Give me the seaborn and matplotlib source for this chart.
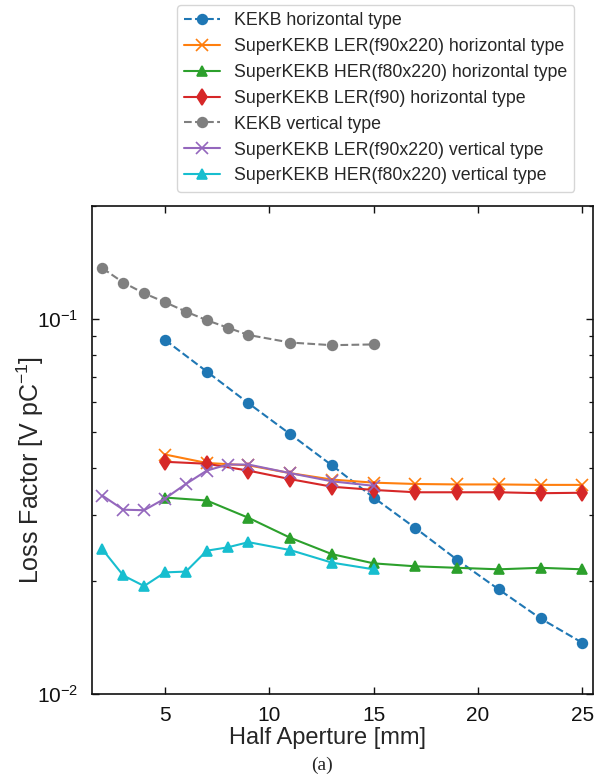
import matplotlib
matplotlib.use('Agg')
import matplotlib.pyplot as plt
import seaborn as sns
from matplotlib.ticker import LogLocator, NullFormatter

# Half aperture [mm]
aperture_h = [5, 7, 9, 11, 13, 15, 17, 19, 21, 23, 25]
aperture_v = [2, 3, 4, 5, 6, 7, 8, 9, 11, 13, 15]

# Loss factor [V/pC]
kekb_h = [0.0879, 0.0724, 0.0596, 0.0493, 0.0407, 0.0334, 0.0277, 0.0228, 0.0190, 0.0159, 0.0137]
ler220_h = [0.0435, 0.0413, 0.0407, 0.0388, 0.0373, 0.0366, 0.0363, 0.0362, 0.0362, 0.0361, 0.0361]
her220_h = [0.0334, 0.0328, 0.0295, 0.0261, 0.0236, 0.0223, 0.0219, 0.0217, 0.0215, 0.0217, 0.0215]
ler90_h = [0.0416, 0.0411, 0.0394, 0.0374, 0.0357, 0.0350, 0.0345, 0.0345, 0.0345, 0.0343, 0.0344]
kekb_v = [0.1365, 0.125, 0.117, 0.1108, 0.1046, 0.0992, 0.0948, 0.0906, 0.0865, 0.0851, 0.0855]
ler220_v = [0.0338, 0.0310, 0.0309, 0.0332, 0.0363, 0.0394, 0.0409, 0.0409, 0.0388, 0.0369, 0.0359]
her220_v = [0.0243, 0.0207, 0.0194, 0.0211, 0.0212, 0.0241, 0.0246, 0.0254, 0.0242, 0.0224, 0.0215]

x_ticks = [5, 10, 15, 20, 25]

series = [
    ('KEKB horizontal type', aperture_h, kekb_h, '#1f77b4', 'o', '--'),
    ('SuperKEKB LER(f90x220) horizontal type', aperture_h, ler220_h, '#ff7f0e', 'x', '-'),
    ('SuperKEKB HER(f80x220) horizontal type', aperture_h, her220_h, '#2ca02c', '^', '-'),
    ('SuperKEKB LER(f90) horizontal type', aperture_h, ler90_h, '#d62728', 'd', '-'),
    ('KEKB vertical type', aperture_v, kekb_v, '#7f7f7f', 'o', '--'),
    ('SuperKEKB LER(f90x220) vertical type', aperture_v, ler220_v, '#9467bd', 'x', '-'),
    ('SuperKEKB HER(f80x220) vertical type', aperture_v, her220_v, '#17becf', '^', '-'),
]

sns.set_style('ticks')
plt.rcParams['font.family'] = ['Liberation Sans', 'DejaVu Sans']
plt.rcParams['mathtext.fontset'] = 'custom'
plt.rcParams['mathtext.rm'] = 'Liberation Sans'
plt.rcParams['mathtext.it'] = 'Liberation Sans:italic'

fig = plt.figure(figsize=(6.02, 7.77), dpi=100)
ax = fig.add_axes([0.1528, 0.1068, 0.8317, 0.6281])

for label, xs, ys, color, marker, ls in series:
    sns.lineplot(x=xs, y=ys, ax=ax, color=color, marker=marker, linestyle=ls,
                 linewidth=1.5, markersize=8 if marker in ('x', 'd') else 7,
                 markeredgecolor=color, markeredgewidth=1.2, label=label)

ax.set_yscale('log')
ax.set_xlim(1.5, 25.5)
ax.set_ylim(0.01, 0.2)
ax.set_xticks(x_ticks)
ax.set_xticklabels([str(t) for t in x_ticks])
ax.yaxis.set_major_locator(LogLocator(base=10))
ax.yaxis.set_minor_locator(LogLocator(base=10, subs=range(2, 10)))
ax.yaxis.set_minor_formatter(NullFormatter())
ax.tick_params(which='both', direction='in', top=True, right=True, labelsize=15, colors='#111111')
ax.tick_params(which='major', length=5, width=1)
ax.tick_params(which='minor', length=3, width=0.9)
ax.tick_params(axis='x', which='major', pad=8.5)
ax.tick_params(axis='y', which='major', pad=10)
for s in ax.spines.values():
    s.set_linewidth(1.2)
    s.set_color('#111111')

ax.set_xlabel('Half Aperture [mm]', fontsize=17)
ax.set_ylabel('Loss Factor [V pC$^{-1}$]', fontsize=18)
ax.xaxis.set_label_coords(0.471, -0.068)
ax.yaxis.set_label_coords(-0.092, 0.46)

handles, labels = ax.get_legend_handles_labels()
ax.get_legend().remove()
fig.legend(handles, labels, loc='upper left', bbox_to_anchor=(177 / 602, 1 - 5 / 777),
           borderaxespad=0, fontsize=12.8, frameon=True)

fig.text(322 / 602, 1 - 765 / 777, '(a)', ha='center', va='center', fontsize=14,
         family=['Liberation Serif', 'DejaVu Serif'])

fig.savefig('out.png', dpi=100)
